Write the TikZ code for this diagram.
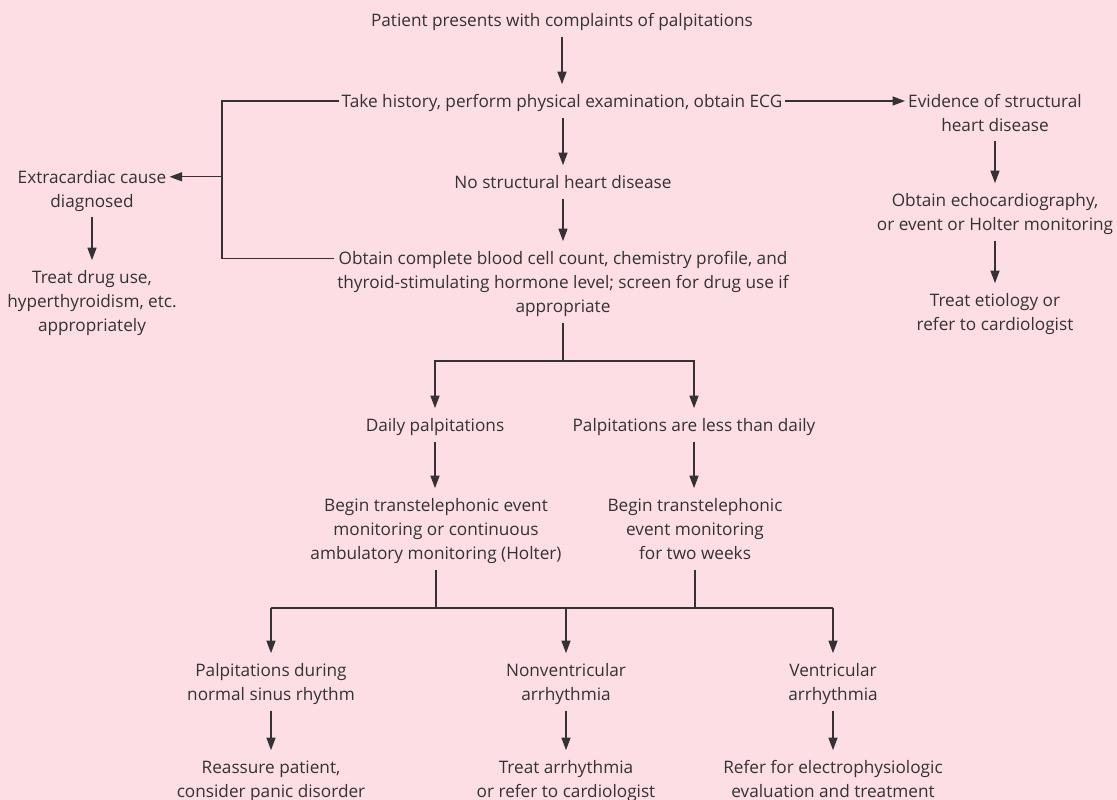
\documentclass[tikz,border=0pt]{standalone}
\usepackage{fontspec}
\setmainfont{Open Sans}
\usetikzlibrary{arrows.meta}
\definecolor{bgpink}{RGB}{252,222,228}
\definecolor{inkgray}{RGB}{52,50,52}
\newcommand\topstrut{\rule{0pt}{23.3bp}}
\newcommand\botstrut{\rule[-10bp]{0pt}{10bp}}
\tikzset{
  box/.style={align=center, inner xsep=3bp, inner ysep=0pt, text=inkgray,
    font=\fontsize{17.2bp}{24bp}\selectfont,
    execute at end node=\botstrut},
  wire/.style={draw=inkgray, line width=1.3bp},
  arr/.style={wire, -{Triangle[length=12.5bp,width=9bp]}}
}
\begin{document}
\begin{tikzpicture}[x=1bp,y=-1bp]
\useasboundingbox (0,0) rectangle (1117,800);
\fill[bgpink] (0,0) rectangle (1117,800);
\begin{scope}
\node[box] (patient) at (562,20) {\topstrut Patient presents with complaints of palpitations};
\node[box] (take) at (562,101) {\topstrut Take history, perform physical examination, obtain ECG};
\node[box] (evid) at (995,112.5) {\topstrut Evidence of structural\\heart disease};
\node[box] (echo) at (995,212) {\topstrut Obtain echocardiography,\\or event or Holter monitoring};
\node[box] (etiol) at (995,312) {\topstrut Treat etiology or\\refer to cardiologist};
\node[box] (nostruct) at (563,182) {\topstrut No structural heart disease};
\node[box] (blood) at (563,282) {\topstrut Obtain complete blood cell count, chemistry profile, and\\thyroid-stimulating hormone level; screen for drug use if\\appropriate};
\node[box] (extra) at (92,188.5) {\topstrut Extracardiac cause\\diagnosed};
\node[box] (drug) at (92,301) {\topstrut Treat drug use,\\hyperthyroidism, etc.\\appropriately};
\node[box] (daily) at (435,425) {\topstrut Daily palpitations};
\node[box] (less) at (694,425) {\topstrut Palpitations are less than daily};
\node[box] (begin daily) at (436,529) {\topstrut Begin transtelephonic event\\monitoring or continuous\\ambulatory monitoring (Holter)};
\node[box] (begin less) at (695,529) {\topstrut Begin transtelephonic\\event monitoring\\for two weeks};
\node[box] (sinus) at (271,682) {\topstrut Palpitations during\\normal sinus rhythm};
\node[box] (nonvent) at (566,682) {\topstrut Nonventricular\\arrhythmia};
\node[box] (vent) at (833,682) {\topstrut Ventricular\\arrhythmia};
\node[box] (reassure) at (271,779) {\topstrut Reassure patient,\\consider panic disorder};
\node[box] (treat arr) at (566,779) {\topstrut Treat arrhythmia\\or refer to cardiologist};
\node[box] (refer ep) at (833,779) {\topstrut Refer for electrophysiologic\\evaluation and treatment};

\coordinate (spine) at (222,101);
\coordinate (merge) at (566,608);
\coordinate (blood line) at ([yshift=-17.15bp]blood.north west);
\coordinate (extra line) at ([yshift=-17.15bp]extra.north east);

\draw[arr] (patient) -- (patient |- take.north);
\draw[arr] (nostruct |- take.south) -- (nostruct);
\draw[arr] (nostruct) -- (blood);
\draw[arr] (take.east) -- (take.east -| evid.west);
\draw[arr] (evid) -- (echo);
\draw[arr] (echo) -- (etiol);
\draw[wire] (take.west) -- (take.west -| spine) |- (blood line);
\draw[arr] (spine |- extra line) -- (extra line);
\draw[arr] (extra) -- (drug);
\draw[wire] (blood.south) -- ++(0,38) coordinate (fork);
\draw[arr] (fork) -| (daily);
\draw[arr] (fork) -| (less);
\draw[arr] (daily) -- (daily |- begin daily.north);
\draw[arr] (less) -- (less |- begin less.north);
\draw[wire] (begin daily) -- (begin daily |- merge);
\draw[wire] (begin less) -- (begin less |- merge);
\draw[wire] (sinus |- merge) -- (vent |- merge);
\foreach \n in {sinus,nonvent,vent}
  \draw[arr] (\n |- merge) -- (\n);
\foreach \a/\b in {sinus/reassure,nonvent/treat arr,vent/refer ep}
  \draw[arr] (\a) -- (\b);
\end{scope}
\end{tikzpicture}
\end{document}
